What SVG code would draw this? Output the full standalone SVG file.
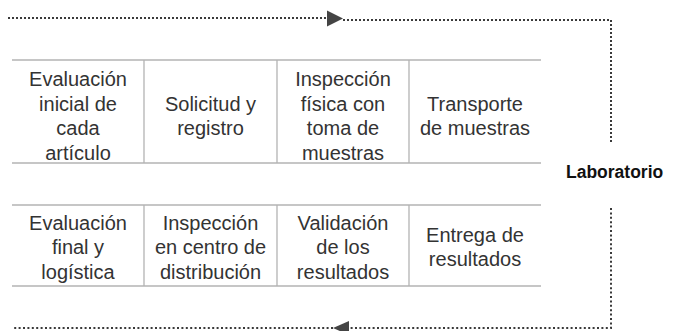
<svg xmlns="http://www.w3.org/2000/svg" width="681" height="331" viewBox="0 0 681 331">
<style>
.cell{fill:none;stroke:#b3b3b3;stroke-width:1.3}
.t{font-family:"Liberation Sans",Arial,sans-serif;font-size:20px;fill:#333;text-anchor:middle}
.lab{font-family:"Liberation Sans",Arial,sans-serif;font-weight:bold;font-size:17.5px;fill:#111}
.dot{fill:none;stroke:#3a3a3a;stroke-width:2}
.arr{fill:#444}
</style>
<rect width="681" height="331" fill="#fff"/>
<g id="table-lines">
<line class="cell" x1="12" y1="60" x2="541" y2="60"/>
<line class="cell" x1="12" y1="163" x2="541" y2="163"/>
<line class="cell" x1="12" y1="205" x2="541" y2="205"/>
<line class="cell" x1="12" y1="286" x2="541" y2="286"/>
<line class="cell" x1="144" y1="60" x2="144" y2="163"/>
<line class="cell" x1="277" y1="60" x2="277" y2="163"/>
<line class="cell" x1="409" y1="60" x2="409" y2="163"/>
<line class="cell" x1="144" y1="205" x2="144" y2="286"/>
<line class="cell" x1="277" y1="205" x2="277" y2="286"/>
<line class="cell" x1="409" y1="205" x2="409" y2="286"/>
</g>
<g id="n1"><text class="t"><tspan x="78" y="86">Evaluación</tspan><tspan x="78" y="110.5">inicial de</tspan><tspan x="78" y="135">cada</tspan><tspan x="78" y="159.5">artículo</tspan></text></g>
<g id="n2"><text class="t"><tspan x="210.5" y="110.5">Solicitud y</tspan><tspan x="210.5" y="135">registro</tspan></text></g>
<g id="n3"><text class="t"><tspan x="343" y="86">Inspección</tspan><tspan x="343" y="110.5">física con</tspan><tspan x="343" y="135">toma de</tspan><tspan x="343" y="159.5">muestras</tspan></text></g>
<g id="n4"><text class="t"><tspan x="475" y="110.5">Transporte</tspan><tspan x="475" y="135">de muestras</tspan></text></g>
<g id="n5"><text class="lab" x="566" y="178">Laboratorio</text></g>
<g id="n6"><text class="t"><tspan x="475" y="241.75">Entrega de</tspan><tspan x="475" y="266.25">resultados</tspan></text></g>
<g id="n7"><text class="t"><tspan x="343" y="229.5">Validación</tspan><tspan x="343" y="254">de los</tspan><tspan x="343" y="278.5">resultados</tspan></text></g>
<g id="n8"><text class="t"><tspan x="210.5" y="229.5">Inspección</tspan><tspan x="210.5" y="254">en centro de</tspan><tspan x="210.5" y="278.5">distribución</tspan></text></g>
<g id="n9"><text class="t"><tspan x="78" y="229.5">Evaluación</tspan><tspan x="78" y="254">final y</tspan><tspan x="78" y="278.5">logística</tspan></text></g>
<g id="connectors">
<path class="dot" d="M8,18 H328" stroke-dasharray="2 2"/>
<polygon class="arr" points="327,10.5 343,18.5 327,26.5"/>
<path class="dot" d="M343,20 H611 V143" stroke-dasharray="2 2"/>
<path class="dot" d="M611,208 V328 H349" stroke-dasharray="2 2.4"/>
<polygon class="arr" points="333,328 349,321 349,335"/>
<path class="dot" d="M333,328 H12" stroke-dasharray="2 2.4"/>
</g>
</svg>
